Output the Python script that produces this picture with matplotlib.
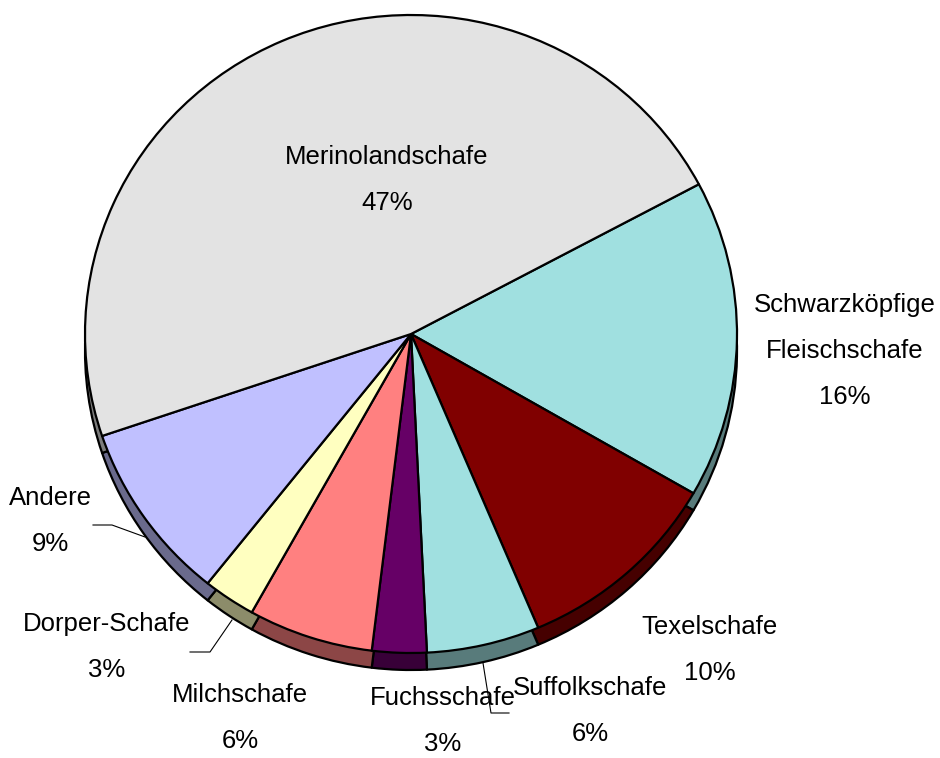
import numpy as np
import matplotlib
matplotlib.use("Agg")
import matplotlib.pyplot as plt
from matplotlib.colors import to_rgb

# slices in drawing order (clockwise from the Merino / Schwarzkoepfige border)
breeds = ["Schwarzköpfige\nFleischschafe", "Texelschafe", "Suffolkschafe",
          "Fuchsschafe", "Milchschafe", "Dorper-Schafe", "Andere",
          "Merinolandschafe"]
shares = [16.1, 10.3, 5.6, 2.7, 6.2, 2.6, 9.1, 47.4]
colors = ["#A0E0E0", "#800000", "#A0E0E0", "#660066", "#FF8080",
          "#FFFFC0", "#C0C0FF", "#E3E3E3"]

# label centres in pixels (x, y from top)
label_pos = [(845, 351), (710, 650), (590, 711), (443, 721), (240, 718),
             (107, 647), (50, 521), (387, 180)]
# leader lines in pixels
leaders = [
    [(93, 525), (112, 525), (145, 537)],
    [(190, 652), (210, 652), (232, 620)],
    [(483, 663), (491, 713), (509, 713)],
]

W, H = 940, 758
cx, cy, rx, ry, depth = 411, 334, 326, 319, 17

plt.rcParams['font.family'] = ['Liberation Sans', 'DejaVu Sans']

fig = plt.figure(figsize=(W / 100, H / 100), dpi=100)
fig.patch.set_facecolor("white")

ax = fig.add_axes([0, 0, 1, 1])
rim_colors = [tuple(c * 0.55 for c in to_rgb(col)) for col in colors]
edge = dict(edgecolor="black", linewidth=1.6, joinstyle="round")

# side of the tilted pie: same pie shifted down, darker
ax.pie(shares, colors=rim_colors, startangle=28, counterclock=False,
       radius=1, center=(0, -depth / ry), wedgeprops=edge)
# top face
ax.pie(shares, colors=colors, startangle=28, counterclock=False,
       radius=1, center=(0, 0), wedgeprops=edge)
ax.set_xlim(-cx / rx, (W - cx) / rx)
ax.set_ylim((cy - H) / ry, cy / ry)
ax.set_aspect("auto")
ax.axis("off")

# text layer in pixel coordinates
tx = fig.add_axes([0, 0, 1, 1])
tx.set_xlim(0, W)
tx.set_ylim(H, 0)
tx.axis("off")

total = sum(shares)
for name, val, (x, y) in zip(breeds, shares, label_pos):
    tx.text(x, y, f"{name}\n{round(val / total * 100)}%", ha="center",
            va="center", multialignment="center", fontsize=18.5,
            linespacing=2.18, color="black")

for pts in leaders:
    xs, ys = zip(*pts)
    tx.plot(xs, ys, color="black", lw=0.8)

fig.savefig("out.png", dpi=100)
